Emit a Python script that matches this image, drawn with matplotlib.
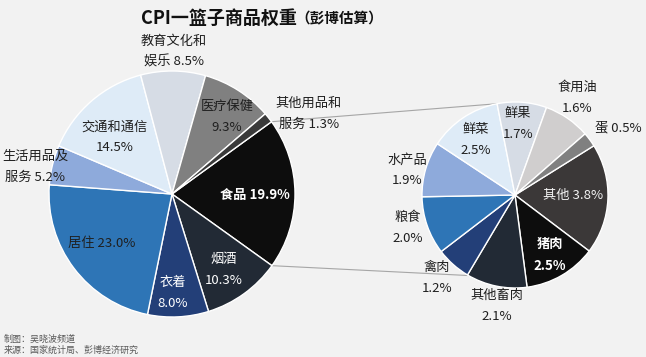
import matplotlib
matplotlib.use("Agg")
import matplotlib.pyplot as plt
import numpy as np

plt.rcParams['font.family'] = ['Noto Sans CJK SC', 'DejaVu Sans']

# ---- data ----
main_labels = ["食品", "烟酒\n", "衣着\n", "居住", "生活用品及\n服务", "交通和通信\n", "教育文化和\n娱乐", "医疗保健\n", "其他用品和\n服务"]
main_values = [19.9, 10.3, 8.0, 23.0, 5.2, 14.5, 8.5, 9.3, 1.3]

food_labels = ["其他", "猪肉\n", "其他畜肉\n", "禽肉\n", "粮食\n", "水产品\n", "鲜菜\n", "鲜果\n", "食用油\n", "蛋"]
food_values = [3.8, 2.5, 2.1, 1.2, 2.0, 1.9, 2.5, 1.7, 1.6, 0.5]

# ---- styles / layout ----
BG = '#f2f2f2'
H = 357
main_colors = ['#0d0d0d', '#222a35', '#233f78', '#2e75b6', '#8eaadb', '#deebf7', '#d6dce5', '#808080', '#3a3a3a']
food_colors = ['#3b3838', '#0d0d0d', '#222a35', '#233f78', '#2e75b6', '#8eaadb', '#deebf7', '#d6dce5', '#d0cece', '#808080']

main_pos = [(255, 195), (224, 270), (173, 293), (102, 243), (35, 167), (115, 137), (174, 52), (227, 117), (309, 114)]
main_tcol = ['white', 'white', 'white', '#1f1f1f', '#1f1f1f', '#1f1f1f', '#1f1f1f', '#1f1f1f', '#1f1f1f']
main_bold = [True] + [False] * 8

food_pos = [(573, 195), (550, 255), (497, 306), (437, 278), (408, 228), (407, 170), (476, 140), (518, 124), (577, 98), (618, 128)]
food_tcol = ['#f2f2f2', 'white'] + ['#1f1f1f'] * 8
food_bold = [False, True] + [False] * 8

c1 = (172, H - 194); r1 = 123; start1 = 36
c2 = (515, H - 195); r2 = 93; start2 = 32

fig = plt.figure(figsize=(6.46, 3.57), dpi=100, facecolor=BG)
ax = fig.add_axes([0, 0, 1, 1])
ax.set_facecolor(BG)

wp = dict(edgecolor='white', linewidth=1.0)
ax.pie(main_values, colors=main_colors, startangle=start1, counterclock=False,
       center=c1, radius=r1, wedgeprops=wp)
ax.pie(food_values, colors=food_colors, startangle=start2, counterclock=False,
       center=c2, radius=r2, wedgeprops=wp)

# connector lines
a_top = np.deg2rad(start1)
a_bot = np.deg2rad(start1 - main_values[0] / sum(main_values) * 360)
p1 = (c1[0] + r1 * np.cos(a_top), c1[1] + r1 * np.sin(a_top))
p2 = (c1[0] + r1 * np.cos(a_bot), c1[1] + r1 * np.sin(a_bot))
q1 = (c2[0] + r2 * np.cos(np.deg2rad(101)), c2[1] + r2 * np.sin(np.deg2rad(101)))
q2 = (c2[0] + r2 * np.cos(np.deg2rad(-120)), c2[1] + r2 * np.sin(np.deg2rad(-120)))
ax.plot([p1[0], q1[0]], [p1[1], q1[1]], color='#a6a6a6', lw=0.8, zorder=0)
ax.plot([p2[0], q2[0]], [p2[1], q2[1]], color='#a6a6a6', lw=0.8, zorder=0)

def lab(name, v):
    if name.endswith("\n"):
        return f"{name}{v:.1f}%"
    return f"{name} {v:.1f}%"

for n, v, (x, y), c, b in zip(main_labels, main_values, main_pos, main_tcol, main_bold):
    ax.text(x, H - y, lab(n, v), ha='center', va='center', color=c, fontsize=9.5,
            fontweight='bold' if b else 'normal', linespacing=1.75)
for n, v, (x, y), c, b in zip(food_labels, food_values, food_pos, food_tcol, food_bold):
    ax.text(x, H - y, lab(n, v), ha='center', va='center', color=c, fontsize=9.5,
            fontweight='bold' if b else 'normal', linespacing=1.75)

ax.set_xlim(0, 646)
ax.set_ylim(0, H)
ax.set_aspect('equal')
ax.axis('off')

# title
ax.text(297, H - 18, "CPI一篮子商品权重", ha='right', va='center', fontsize=13, fontweight='heavy', color='#111111')
ax.text(295, H - 18, "（彭博估算）", ha='left', va='center', fontsize=10.5, fontweight='heavy', color='#111111')

# footer
ax.text(4, H - 339, "制图：吴晓波频道", ha='left', va='center', fontsize=6.5, color='#595959')
ax.text(4, H - 350, "来源：国家统计局、彭博经济研究", ha='left', va='center', fontsize=6.5, color='#595959')

fig.savefig("out.png", dpi=100, facecolor=BG)
